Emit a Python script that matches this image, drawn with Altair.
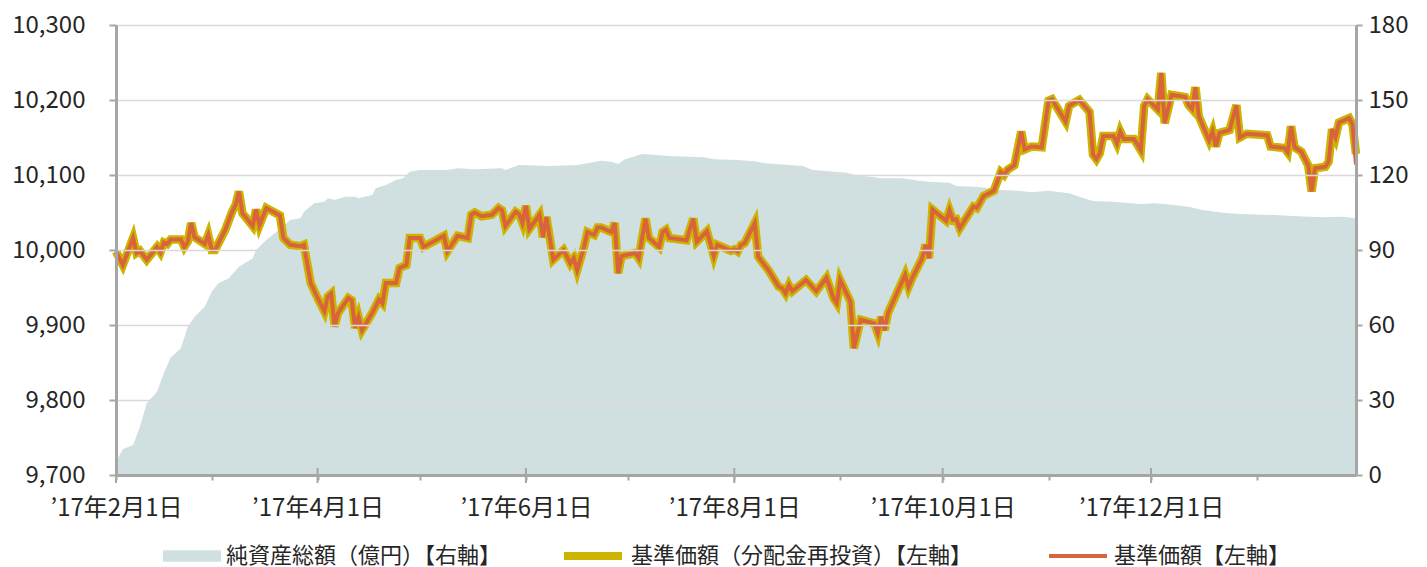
import altair as alt
import pandas as pd

FONT = "Noto Sans CJK JP"
S_AREA = "純資産総額（億円）【右軸】"
S_REINV = "基準価額（分配金再投資）【左軸】"
S_NAV = "基準価額【左軸】"
START = "2017-02-01"

# days after 2017-02-01 and NAV values (left axis)
nav_days = [0, 2, 5, 6, 7, 9, 12, 13, 14, 15, 16, 19, 20, 21, 22, 23, 26, 27, 28, 29,
            32, 34, 35, 36, 37, 40, 41, 42, 44, 46, 48, 49, 51, 54, 55, 57, 59, 61, 62, 63,
            64, 65, 68, 69, 70, 71, 72, 75, 77, 78, 79, 82, 83, 85, 86, 89, 90, 96, 97, 100,
            103, 104, 105, 107, 110, 112, 113, 114, 117, 118, 119, 120, 121, 124, 125, 126, 128, 131, 133, 134,
            135, 137, 138, 140, 141, 142, 145, 146, 147, 148, 152, 153, 155, 156, 159, 160, 161, 162, 167, 169,
            170, 173, 175, 176, 180, 181, 182, 183, 184, 187, 188, 191, 194, 195, 196, 197, 198, 202, 205, 208,
            210, 211, 212, 215, 216, 218, 222, 223, 224, 225, 226, 231, 232, 233, 236, 237, 238, 239, 243, 244,
            245, 246, 247, 251, 252, 254, 257, 259, 260, 261, 263, 265, 266, 268, 271, 273, 274, 278, 279, 280,
            282, 285, 286, 287, 288, 289, 292, 293, 294, 295, 298, 300, 301, 302, 305, 306, 307, 309, 313, 314,
            315, 316, 317, 320, 321, 322, 323, 326, 328, 329, 331, 337, 338, 342, 343, 344, 345, 347, 349, 350,
            351, 354, 355, 356, 357, 358, 361, 362, 363]
nav_values = [9998, 9980, 10016, 9996, 9999, 9987, 10004, 9997, 10010, 10008, 10014, 10014, 10004, 10011, 10036, 10017, 10008, 10020, 10000, 10000,
              10027, 10051, 10060, 10078, 10049, 10032, 10054, 10033, 10056, 10051, 10046, 10016, 10007, 10005, 10007, 9956, 9936, 9918, 9938, 9942,
              9898, 9916, 9936, 9933, 9896, 9911, 9893, 9916, 9934, 9929, 9956, 9956, 9976, 9980, 10016, 10016, 10004, 10019, 9998, 10019,
              10016, 10047, 10050, 10045, 10047, 10056, 10053, 10032, 10051, 10048, 10036, 10059, 10028, 10047, 10017, 10044, 9987, 10000, 9982, 9989,
              9973, 10004, 10024, 10020, 10030, 10030, 10024, 10036, 9969, 9992, 9996, 9989, 10042, 10016, 10004, 10024, 10027, 10016, 10013, 10042,
              10011, 10025, 9992, 10007, 9999, 10001, 9998, 10007, 10009, 10036, 9991, 9973, 9951, 9949, 9942, 9953, 9945, 9960, 9945, 9963,
              9936, 9929, 9960, 9931, 9869, 9907, 9902, 9889, 9911, 9893, 9916, 9967, 9951, 9962, 9989, 10007, 9989, 10054, 10039, 10053,
              10040, 10041, 10029, 10058, 10056, 10072, 10079, 10104, 10100, 10107, 10113, 10158, 10134, 10138, 10137, 10199, 10201, 10171, 10192, 10195,
              10200, 10184, 10127, 10121, 10129, 10152, 10152, 10142, 10158, 10148, 10148, 10133, 10192, 10201, 10187, 10236, 10169, 10207, 10204, 10193,
              10188, 10217, 10178, 10146, 10158, 10138, 10156, 10160, 10193, 10150, 10155, 10153, 10138, 10136, 10130, 10165, 10137, 10131, 10113, 10078,
              10109, 10111, 10118, 10161, 10150, 10170, 10176, 10167, 10114]
# reinvested NAV equals NAV until the final day (distribution)
reinvest_values = nav_values[:-1] + [10128]

# days after 2017-02-01 and net assets, 100 million yen (right axis)
asset_days = [0, 2, 5, 7, 9, 12, 14, 16, 19, 21, 23, 26, 28, 30, 33, 36, 40, 41, 44, 47,
              51, 54, 55, 58, 61, 62, 64, 67, 70, 71, 75, 76, 79, 82, 84, 86, 89, 97, 100, 105,
              113, 114, 118, 127, 135, 142, 145, 147, 149, 154, 162, 172, 175, 182, 187, 190, 201, 204, 214, 216,
              224, 230, 235, 238, 244, 246, 251, 254, 259, 265, 268, 273, 279, 282, 286, 292, 300, 304, 307, 314,
              318, 324, 329, 339, 349, 354, 359, 363]
asset_values = [5.3, 10.3, 12, 19.3, 28.7, 33.3, 40.7, 47, 50.7, 59.3, 63.3, 67.3, 73.3, 76.7, 78.7, 83.3, 86.7, 90, 94, 97.3,
                102, 102.7, 105.3, 108.7, 109.3, 110.7, 110, 111.3, 111.3, 110.7, 112, 114.7, 116, 118, 118.7, 121.3, 122, 122, 122.7, 122.3,
                122.7, 122, 124, 123.6, 124, 125.7, 125.3, 124.4, 126.3, 128.4, 127.6, 127.1, 126.3, 126, 125.5, 124.7, 123.6, 122, 120.9, 120.1,
                118.7, 118.7, 117.7, 117.3, 116.9, 115.6, 115.3, 115, 114, 113.6, 113.1, 113.7, 112.7, 111.3, 109.6, 109.3, 108.4, 108.7, 108.4, 107.3,
                106, 104.9, 104.4, 104, 103.3, 103.1, 103.3, 102.7]

left_ticks = [9700, 9800, 9900, 10000, 10100, 10200, 10300]
right_ticks = [0, 30, 60, 90, 120, 150, 180]
major_tick_dates = ["2017-02-01", "2017-04-01", "2017-06-01", "2017-08-01", "2017-10-01", "2017-12-01"]

assert len(nav_days) == len(nav_values)
assert len(asset_days) == len(asset_values)

start = pd.Timestamp(START)
nav_dates = [start + pd.Timedelta(days=d) for d in nav_days]
asset_dates = [start + pd.Timedelta(days=d) for d in asset_days]

df_nav = pd.DataFrame({"date": nav_dates, "value": nav_values, "series": S_NAV})
df_reinv = pd.DataFrame({"date": nav_dates, "value": reinvest_values, "series": S_REINV})
df_assets = pd.DataFrame({"date": asset_dates, "value": asset_values, "series": S_AREA})
df_major = pd.DataFrame({"date": pd.to_datetime(major_tick_dates)})

end = start + pd.Timedelta(days=max(nav_days))
month_values = [alt.DateTime(year=2017 + (m > 12), month=((m - 1) % 12) + 1, date=1) for m in range(2, 14)]

AXIS_GREY = "#a6a6a6"
TXT = "#262626"

x_enc = alt.X(
    "date:T",
    scale=alt.Scale(domain=[alt.DateTime(year=start.year, month=start.month, date=start.day),
                            alt.DateTime(year=end.year, month=end.month, date=end.day)]),
    axis=alt.Axis(
        values=month_values,
        labelExpr="month(datum.value) % 2 == 1 ? '’' + (year(datum.value) % 100) + '年' + (month(datum.value) + 1) + '月1日' : ''",
        title=None, grid=False, domainColor=AXIS_GREY, domainWidth=3,
        tickColor=AXIS_GREY, tickWidth=2, tickSize=5,
        labelFont=FONT, labelFontSize=24, labelColor=TXT, labelPadding=16,
        labelOverlap=False, labelFlush=False, zindex=1,
    ),
)


def make_legend(x, y, col, shape, stroke_w):
    return alt.Legend(
        title=None, orient="none", legendX=x, legendY=y, direction="horizontal",
        symbolType=shape, symbolSize=3364, symbolStrokeWidth=stroke_w, symbolOpacity=1,
        symbolFillColor=col, symbolStrokeColor=col,
        labelFont=FONT, labelFontSize=22, labelColor=TXT, labelLimit=0, labelOffset=5,
        padding=0,
    )


def color_for(name, col, x, y, shape, stroke_w):
    return alt.Color("series:N", scale=alt.Scale(domain=[name], range=[col]),
                     legend=make_legend(x, y, col, shape, stroke_w))


AREA_COL, REINV_COL, NAV_COL = "#d0dfe0", "#ccb400", "#d9643c"

area = alt.Chart(df_assets).mark_area(opacity=1, interpolate="linear").encode(
    x=x_enc,
    y=alt.Y("value:Q", scale=alt.Scale(domain=[0, 180], nice=False, zero=True),
            axis=alt.Axis(orient="right", values=right_ticks, title=None, grid=False,
                          domainColor=AXIS_GREY, domainWidth=3, tickColor=AXIS_GREY, tickWidth=2,
                          tickSize=6, labelPadding=6, labelFont=FONT, labelFontSize=24,
                          labelColor=TXT, zindex=1)),
    color=color_for(S_AREA, AREA_COL, 47, 502, "M-1,-0.2H1V0.2H-1Z", 0),
)

left_axis = alt.Axis(orient="left", values=left_ticks, format=",.0f", title=None, grid=True,
                     gridColor="#d9d9d9", gridWidth=1.5,
                     domainColor=AXIS_GREY, domainWidth=3, tickColor=AXIS_GREY, tickWidth=2,
                     tickSize=7, labelPadding=24, labelFont=FONT, labelFontSize=24,
                     labelColor=TXT, zindex=1)
left_scale = alt.Scale(domain=[9700, 10300], nice=False, zero=False)

reinv = alt.Chart(df_reinv).mark_line(strokeWidth=8.5).encode(
    x=x_enc, y=alt.Y("value:Q", scale=left_scale, axis=left_axis),
    color=color_for(S_REINV, REINV_COL, 444, 498, "stroke", 8),
)
nav = alt.Chart(df_nav).mark_line(strokeWidth=4).encode(
    x=x_enc, y=alt.Y("value:Q", scale=left_scale, axis=None),
    color=color_for(S_NAV, NAV_COL, 931, 500, "stroke", 4),
)

major_ticks = alt.Chart(df_major).mark_rule(color=AXIS_GREY, strokeWidth=2).encode(
    x=alt.X("date:T"), y=alt.value(443), y2=alt.value(458)
)

chart = alt.layer(area, reinv, nav, major_ticks).resolve_scale(
    y="independent", color="independent"
).properties(
    width=1240, height=450,
    autosize=alt.AutoSizeParams(type="none"),
    padding={"left": 108, "top": 17, "right": 63, "bottom": 94},
    background="white",
).configure_view(stroke=None)

chart.save("out.html", embed_options={"renderer": "svg", "actions": False})
